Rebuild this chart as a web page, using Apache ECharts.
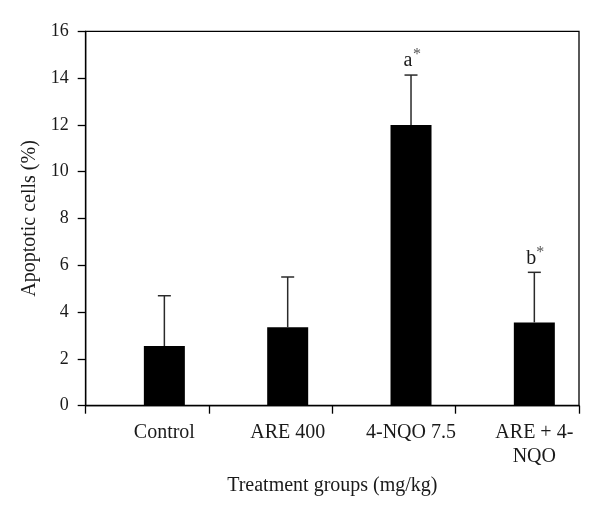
<!DOCTYPE html>
<html>
<head>
<meta charset="utf-8">
<script src="https://cdn.jsdelivr.net/npm/echarts@6/dist/echarts.min.js"></script>
<style>html,body{margin:0;padding:0;background:#fff;}#c{width:600px;height:514px;}</style>
</head>
<body>
<div id="c"></div>
<script>
const categories = ['Control', 'ARE 400', '4-NQO 7.5', 'ARE + 4-\nNQO'];
const means = [2.55, 3.35, 12.0, 3.56];
const sdUpper = [2.15, 2.15, 2.13, 2.14];
const letters = ['', '', 'a', 'b'];
const yMin = 0, yMax = 16, yStep = 2;
const xTitle = 'Treatment groups (mg/kg)';
const yTitle = 'Apoptotic cells (%)';

const FONT = '"Liberation Serif", "DejaVu Serif", serif';
const chart = echarts.init(document.getElementById('c'), null, {renderer: 'canvas'});

const option = {
  backgroundColor: '#fff',
  animation: false,
  grid: [
    {left: 85.7, right: 21, top: 31.3, bottom: 108.3, show: true, borderColor: '#000', borderWidth: 1.3, backgroundColor: 'transparent'},
    {left: 102.7, right: 4, top: 31.3, bottom: 108.3}
  ],
  xAxis: [
    {
      type: 'category', gridIndex: 0, data: categories,
      boundaryGap: true,
      axisLine: {show: true, lineStyle: {color: '#000', width: 1.3}},
      axisTick: {show: true, inside: false, length: 8, alignWithLabel: false, lineStyle: {color: '#000', width: 1.3}},
      axisLabel: {show: false},
      name: xTitle, nameLocation: 'middle', nameGap: 70,
      nameTextStyle: {fontFamily: FONT, fontSize: 20, color: '#1a1a1a'}
    },
    {
      type: 'category', gridIndex: 1, data: categories,
      boundaryGap: true,
      axisLine: {show: false}, axisTick: {show: false},
      axisLabel: {show: true, margin: 15, fontFamily: FONT, fontSize: 20, lineHeight: 24, color: '#1a1a1a', interval: 0}
    }
  ],
  yAxis: [
    {
      type: 'value', gridIndex: 0, min: yMin, max: yMax, interval: yStep,
      axisLine: {show: true, lineStyle: {color: '#000', width: 1.3}},
      axisTick: {show: true, inside: false, length: 8, lineStyle: {color: '#000', width: 1.3}},
      splitLine: {show: false},
      axisLabel: {margin: 17, fontFamily: FONT, fontSize: 18, color: '#1a1a1a'},
      name: yTitle, nameLocation: 'middle', nameGap: 44, nameRotate: 90,
      nameTextStyle: {fontFamily: FONT, fontSize: 20, color: '#1a1a1a'}
    },
    {
      type: 'value', gridIndex: 1, min: yMin, max: yMax, interval: yStep, show: false,
      splitLine: {show: false}
    }
  ],
  series: [
    {
      type: 'bar', xAxisIndex: 1, yAxisIndex: 1,
      data: means, barWidth: 41,
      itemStyle: {color: '#000'}
    },
    {
      type: 'custom', xAxisIndex: 1, yAxisIndex: 1, z: 5,
      data: categories.map((c, i) => [i, means[i], sdUpper[i], i]),
      encode: {x: 0, y: 1},
      renderItem: function (params, api) {
        const i = api.value(3);
        const m = api.value(1), e = api.value(2);
        const base = api.coord([api.value(0), m]);
        const top = api.coord([api.value(0), m + e]);
        const cap = 6.5;
        const ls = {stroke: '#2a2a2a', lineWidth: 1.5};
        const children = [
          {type: 'line', shape: {x1: base[0], y1: base[1], x2: top[0], y2: top[1]}, style: ls},
          {type: 'line', shape: {x1: top[0] - cap, y1: top[1], x2: top[0] + cap, y2: top[1]}, style: ls}
        ];
        const letter = letters[i];
        if (letter) {
          children.push({type: 'text', style: {text: letter, x: top[0] - 3, y: top[1] - 4, align: 'center', verticalAlign: 'bottom', font: '20px ' + FONT, fill: '#1a1a1a'}});
          children.push({type: 'text', style: {text: '*', x: top[0] + 6, y: top[1] - 12, align: 'center', verticalAlign: 'bottom', font: '16px ' + FONT, fill: '#555'}});
        }
        return {type: 'group', children: children};
      }
    }
  ]
};
chart.setOption(option);
</script>
</body>
</html>
